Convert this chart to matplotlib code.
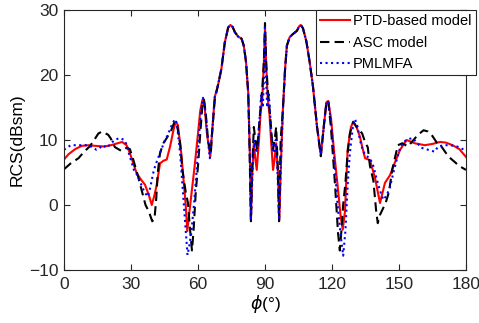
import matplotlib
matplotlib.use('Agg')
from matplotlib import pyplot as plt

plt.rcParams['font.family'] = ['Liberation Sans', 'DejaVu Sans']
plt.rcParams['mathtext.fontset'] = 'dejavusans'

# PTD-based model (red solid)
ptd_phi = [0, 2, 5, 8, 11, 14, 18, 21, 24, 26, 28, 29.5, 32.5, 34.5, 36.3, 38, 39.3, 40.5,
           41.5, 43, 44.5, 46, 47.5, 49, 50, 51, 52.5, 53.5, 54.5, 55.2, 56, 57, 58.5, 60,
           61, 62, 63, 64, 65.5, 66.5, 67.5, 69, 70.5, 72, 73.5, 74.5, 75.5, 76.5, 78, 79.5,
           80.5, 81.5, 82.5, 83.2, 83.7, 84.3, 85, 85.7, 86.3, 87.3, 88, 88.8, 89.5, 90,
           90.5, 91.2, 92, 92.7, 93.6, 94.3, 95, 95.8, 96.4, 97.2, 98, 99, 99.8, 101, 102.5,
           104.3, 105.3, 106, 107, 108.5, 110, 111.5, 113.3, 115, 116.3, 117.5, 118.3, 119.5,
           121, 122.5, 123.8, 124.8, 125.8, 127, 128.5, 129.5, 131, 132.5, 133.5, 134.8, 137,
           139.3, 141.5, 143.7, 146, 148, 150.5, 153.4, 157, 161.6, 165, 168.4, 171, 174,
           177, 180]
ptd_rcs = [7.0, 7.8, 8.6, 9.1, 9.2, 9.1, 9.0, 9.2, 9.5, 9.7, 9.2, 8.0, 4.9, 3.9, 3.1, 1.5,
           0.0, 1.5, 3.1, 6.4, 6.8, 7.0, 9.0, 11.5, 12.8, 12.3, 8.0, 4.0, 0.0, -4.0, -1.5, 1.5,
           6.0, 11.0, 14.5, 16.2, 15.0, 11.0, 7.4, 12.0, 16.6, 18.5, 21.0, 25.0, 27.3, 27.7,
           27.4, 26.6, 25.9, 25.6, 24.5, 22.0, 17.2, 8.0, -2.3, 5.0, 9.5, 7.0, 5.4, 10.0,
           14.0, 16.5, 22.0, 27.2, 22.0, 16.5, 14.0, 10.0, 5.4, 7.0, 9.5, 5.0, -2.3, 7.0, 14.6,
           21.0, 24.5, 25.8, 26.3, 26.8, 27.5, 27.7, 27.2, 25.2, 22.0, 18.2, 12.0, 7.7, 12.0,
           15.8, 16.0, 13.5, 8.0, 3.0, -1.5, -3.8, -1.0, 8.5, 12.0, 12.8, 12.0, 10.5, 9.0,
           7.2, 6.9, 4.1, 0.3, 3.4, 4.6, 6.4, 8.5, 10.0, 9.5, 9.2, 9.4, 9.7, 9.6, 9.2, 8.6, 7.4]

# ASC model (black dashed)
asc_phi = [0, 3, 6.5, 9, 11.5, 13.5, 15.4, 17, 19.8, 21, 22.8, 25.8, 28, 29.5, 31, 33, 35,
           36.5, 38, 39.5, 40.5, 41.3, 42, 43, 44.5, 46, 48, 49.5, 50.5, 52, 53, 54.5, 55.5,
           56.5, 57.3, 58, 59, 60, 61, 62, 62.7, 63.5, 64.5, 65.7, 66.5, 67.5, 69, 70.5, 72,
           73.5, 74.5, 75.5, 76.5, 78, 79.5, 80.5, 81.5, 82.5, 83, 83.7, 84.3, 85, 85.7, 86.5,
           87.3, 88, 88.8, 89.5, 90, 90.5, 91.2, 92, 92.7, 93.5, 94.3, 95, 95.7, 96.3, 97, 98,
           99, 99.8, 101, 102.5, 104.3, 105.3, 106, 107, 108.5, 110, 111.5, 113.3, 115, 116.3,
           117.5, 118.3, 119.5, 121.3, 122.7, 123.5, 124.2, 125, 126, 127, 128, 129.5, 131,
           133.5, 135, 136, 137, 138.5, 139.8, 140.5, 141.5, 144, 145.5, 147, 149.5, 151.5,
           154, 156, 158.5, 161, 163, 165, 166.7, 169, 171, 173, 175, 177, 180]
asc_rcs = [5.5, 6.4, 7.2, 8.2, 9.0, 10.0, 11.0, 11.3, 10.8, 10.2, 8.9, 8.3, 8.8, 8.6, 7.0,
           4.6, 2.0, 0.0, -1.0, -2.5, -2.2, 1.0, 5.0, 8.0, 9.5, 10.3, 11.5, 12.8, 12.5, 9.5,
           5.4, 2.0, 0.3, -4.0, -7.0, -4.0, 2.0, 6.0, 11.0, 15.5, 16.2, 14.0, 10.0, 7.8, 12.0,
           16.2, 18.5, 21.0, 25.0, 27.3, 27.7, 27.4, 26.6, 25.9, 25.6, 24.5, 22.0, 17.2, 10.0,
           -2.5, 6.0, 12.0, 10.0, 8.5, 12.0, 15.0, 18.0, 22.0, 28.0, 22.0, 18.0, 15.0, 12.0,
           8.5, 10.0, 12.0, 6.0, -2.5, 10.0, 14.6, 21.0, 24.5, 25.8, 26.3, 26.8, 27.5, 27.7,
           27.2, 25.2, 22.0, 18.2, 12.0, 7.5, 12.0, 15.8, 16.0, 12.0, 3.4, -4.3, -7.0, -4.0,
           0.0, 3.4, 8.0, 11.0, 12.8, 12.0, 11.0, 9.5, 8.9, 6.0, 3.8, -1.0, -2.8, -1.5, 0.3,
           2.0, 5.5, 9.2, 9.5, 9.0, 9.8, 10.8, 11.5, 11.3, 10.6, 9.7, 9.0, 8.0, 7.2, 6.6, 6.0,
           5.4]

# PMLMFA (blue dotted)
pml_phi = [0, 3, 6, 9, 11, 13, 14.5, 16, 17.5, 19, 21, 22.5, 25, 27, 28, 29, 31.3, 33,
           34.5, 36, 37.5, 38.5, 40, 41, 43, 45, 46.5, 48.5, 49.7, 50.5, 52, 53.3, 54.5, 55.3,
           56, 57, 58.3, 59.5, 60.5, 61.5, 62.2, 63, 64, 65.3, 66.5, 67.5, 69, 70.5, 72, 73.5,
           74.5, 75.5, 76.5, 78, 79.5, 80.5, 81.5, 82.5, 83.2, 83.7, 84.5, 85.2, 86, 86.8,
           87.5, 88.3, 89, 89.5, 90, 90.5, 91, 91.7, 92.5, 93.2, 94, 94.8, 95.5, 96.3, 97.2,
           98, 99, 99.8, 101, 102.5, 104.3, 105.3, 106, 107, 108.5, 110, 111.5, 113.3, 115,
           116.3, 117.5, 118.3, 119.5, 121, 122.5, 124, 125, 126, 127, 128, 129.5, 130.3,
           131.5, 132.5, 134, 135.5, 137, 138.5, 140, 141.5, 143, 144.5, 146, 147.5, 149,
           150.5, 152, 154, 156, 158, 160, 162, 164, 166, 167.5, 170, 173, 176, 178, 180]
pml_rcs = [8.5, 9.2, 9.2, 9.2, 9.2, 8.8, 8.5, 8.8, 9.2, 8.8, 9.4, 10.0, 10.3, 10.0, 9.3,
           8.0, 5.4, 4.5, 3.2, 2.0, 1.3, 2.5, 5.0, 6.2, 8.0, 9.8, 10.8, 12.5, 13.2, 12.6, 8.0,
           1.8, -4.0, -7.7, -6.5, -4.3, 0.5, 5.8, 11.0, 15.0, 16.5, 15.5, 11.5, 7.2, 12.0,
           16.6, 18.5, 21.0, 25.0, 27.3, 27.7, 27.4, 26.6, 25.9, 25.6, 24.5, 22.0, 17.2, 8.0,
           -2.3, 6.0, 10.0, 8.0, 9.0, 13.0, 17.0, 15.0, 19.0, 27.3, 19.0, 15.0, 17.0, 13.0,
           9.0, 8.0, 10.0, 6.0, -2.3, 7.0, 14.6, 21.0, 24.5, 25.8, 26.3, 26.8, 27.5, 27.7,
           27.2, 25.2, 22.0, 18.2, 12.0, 7.7, 12.0, 15.8, 16.0, 13.0, 7.0, 0.0, -5.0, -7.8,
           -4.0, 3.0, 8.0, 12.5, 13.2, 12.0, 10.0, 8.2, 7.5, 7.2, 6.0, 4.0, 2.2, 0.8, 1.5,
           2.8, 5.0, 7.0, 8.8, 9.7, 10.1, 10.3, 9.6, 8.8, 8.6, 8.4, 8.2, 9.0, 9.2, 9.2, 9.0,
           8.7, 8.3]

x_ticks = [0, 30, 60, 90, 120, 150, 180]
y_ticks = [-10, 0, 10, 20, 30]

fig = plt.figure(figsize=(4.79, 3.23), dpi=100, facecolor='white')
ax = fig.add_axes([64 / 479, 53 / 323, 402 / 479, 260 / 323])

ax.plot(ptd_phi, ptd_rcs, color='red', linewidth=1.5, label='PTD-based model')
ax.plot(asc_phi, asc_rcs, color='black', linewidth=1.5, dashes=(4.5, 2.5), label='ASC model')
ax.plot(pml_phi, pml_rcs, color='blue', linewidth=1.5, linestyle=':', label='PMLMFA')

ax.set_xlim(0, 180)
ax.set_ylim(-10, 30)
ax.set_xticks(x_ticks)
ax.set_yticks(y_ticks)

ax.tick_params(direction='in', length=4, width=0.8, top=True, right=True,
               labelsize=12.5, colors='#262626')
ax.tick_params(axis='x', pad=5)
ax.tick_params(axis='y', pad=4)
for s in ax.spines.values():
    s.set_color('#262626')
    s.set_linewidth(0.8)

ax.set_xlabel(r'$\phi$(°)', fontsize=12.5, labelpad=1)
ax.set_ylabel('RCS(dBsm)', fontsize=12.5, labelpad=3)

leg = ax.legend(loc='upper right', bbox_to_anchor=(1.025, 1.0), borderaxespad=0,
                fontsize=10.5, fancybox=False, framealpha=1, edgecolor='#262626',
                handlelength=2.0, handletextpad=0.25, labelspacing=0.5, borderpad=0.3)
leg.get_frame().set_linewidth(0.8)

fig.savefig('out.png', dpi=100, facecolor='white')
